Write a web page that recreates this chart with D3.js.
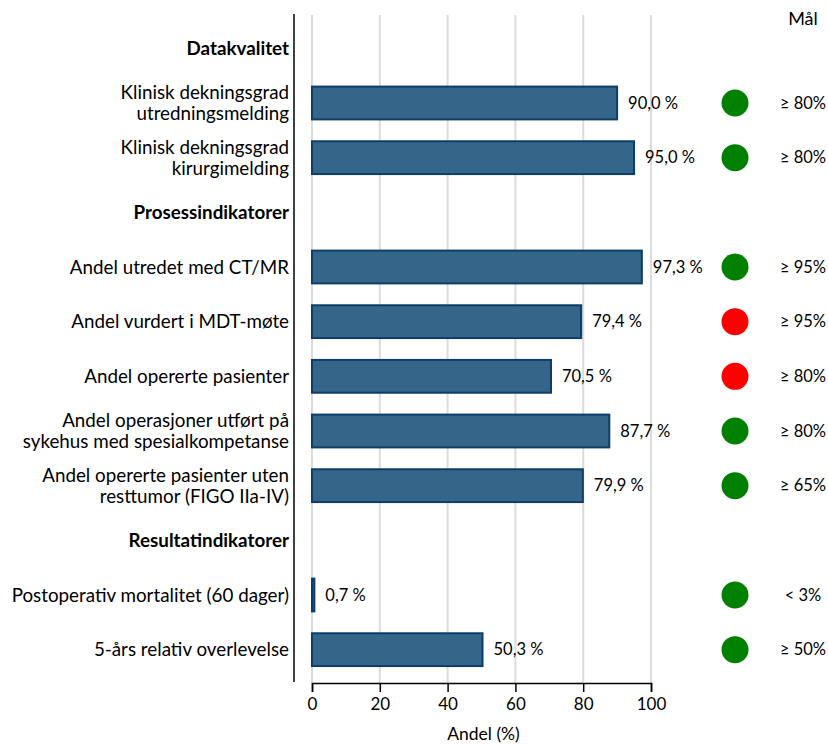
<!DOCTYPE html>
<html><head><meta charset="utf-8">
<script src="https://cdn.jsdelivr.net/npm/d3@7"></script>
<style>body{margin:0;background:#fff}svg{display:block}text{font-family:Lato,"Open Sans",sans-serif;fill:#000}</style>
</head><body>
<script>
const rowLabels = [
  ["Datakvalitet"],
  ["Klinisk dekningsgrad","utredningsmelding"],
  ["Klinisk dekningsgrad","kirurgimelding"],
  ["Prosessindikatorer"],
  ["Andel utredet med CT/MR"],
  ["Andel vurdert i MDT-møte"],
  ["Andel opererte pasienter"],
  ["Andel operasjoner utført på","sykehus med spesialkompetanse"],
  ["Andel opererte pasienter uten","resttumor (FIGO IIa-IV)"],
  ["Resultatindikatorer"],
  ["Postoperativ mortalitet (60 dager)"],
  ["5-års relativ overlevelse"]
];
const isHeader = [true,false,false,true,false,false,false,false,false,true,false,false];
const values = [null,90.0,95.0,null,97.3,79.4,70.5,87.7,79.9,null,0.7,50.3];
const goalMet = [null,true,true,null,true,false,false,true,true,null,true,true];
const targets = [null,"≥ 80%","≥ 80%",null,"≥ 95%","≥ 95%","≥ 80%","≥ 80%","≥ 65%",null,"< 3%","≥ 50%"];
const xTicks = [0,20,40,60,80,100];

const W=828,H=745;
const svg=d3.select("body").append("svg").attr("width",W).attr("height",H);
const x=d3.scaleLinear().domain([0,100]).range([312,651]);
const y=d3.scaleBand().domain(d3.range(rowLabels.length)).range([21,677]).paddingInner(0.4).paddingOuter(0.2);
const yc=i=>y(i)+y.bandwidth()/2;

// gridlines
svg.append("g").selectAll("line").data(xTicks).join("line")
  .attr("x1",d=>x(d)).attr("x2",d=>x(d)).attr("y1",15).attr("y2",683)
  .attr("stroke","#dcdcdc").attr("stroke-width",2);

// x axis
const xa=svg.append("g").attr("transform","translate(0,683)")
  .call(d3.axisBottom(x).tickValues(xTicks).tickSize(9).tickPadding(6).tickFormat(d3.format("d")));
xa.select(".domain").attr("stroke","#000").attr("stroke-width",1.5);
xa.selectAll(".tick line").attr("stroke","#000").attr("stroke-width",1.5);
xa.selectAll("text").style("font-size","17px").style("font-family","Lato,'Open Sans',sans-serif");

svg.append("text").attr("x",x(50)+2).attr("y",740).attr("text-anchor","middle").style("font-size","17.5px").text("Andel (%)");

// y axis line
svg.append("line").attr("x1",294).attr("x2",294).attr("y1",14).attr("y2",682).attr("stroke","#000").attr("stroke-width",1.5);

// labels
const lg=svg.append("g");
rowLabels.forEach((lines,i)=>{
  const t=lg.append("text").attr("text-anchor","end")
    .style("font-size","18.8px").style("font-weight",isHeader[i]?"bold":"normal");
  const n=lines.length, lh=21;
  lines.forEach((s,j)=>{
    t.append("tspan").attr("x",289).attr("y",yc(i)+(j-(n-1)/2)*lh).attr("dy","0.35em").text(s);
  });
});

const idx=d3.range(values.length).filter(i=>values[i]!==null);
// bars
svg.append("g").selectAll("rect").data(idx).join("rect")
  .attr("x",x(0)).attr("y",i=>y(i)).attr("height",y.bandwidth())
  .attr("width",i=>x(values[i])-x(0))
  .attr("fill","#336688").attr("stroke","#0d3d69").attr("stroke-width",2);

// value labels
svg.append("g").selectAll("text").data(idx).join("text")
  .attr("x",i=>x(values[i])+11).attr("y",i=>yc(i)).attr("dy","0.35em")
  .style("font-size","16.5px")
  .text(i=>d3.format(".1f")(values[i]).replace(".",",")+" %");

// circles
svg.append("g").selectAll("circle").data(idx).join("circle")
  .attr("cx",735).attr("cy",i=>yc(i)).attr("r",13.5)
  .attr("fill",i=>goalMet[i]?"#008000":"#ff0000");

// targets
svg.append("g").selectAll("text").data(idx).join("text")
  .attr("x",803).attr("y",i=>yc(i)).attr("dy","0.35em").attr("text-anchor","middle")
  .style("font-size","16.5px").text(i=>targets[i]);

svg.append("text").attr("x",803).attr("y",25).attr("text-anchor","middle").style("font-size","18px").text("Mål");
</script>
</body></html>
